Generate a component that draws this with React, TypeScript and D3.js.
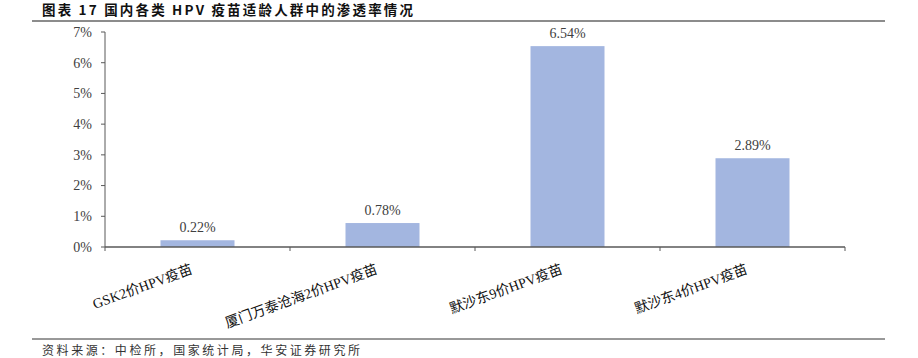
import React from "react";
import * as d3 from "d3";

const categories = ["GSK2价HPV疫苗", "厦门万泰沧海2价HPV疫苗", "默沙东9价HPV疫苗", "默沙东4价HPV疫苗"];
const values = [0.0022, 0.0078, 0.0654, 0.0289];
const yTicks = [0, 0.01, 0.02, 0.03, 0.04, 0.05, 0.06, 0.07];
const title = "图表 17 国内各类 HPV 疫苗适龄人群中的渗透率情况";
const source = "资料来源：中检所，国家统计局，华安证券研究所";

const W = 918;
const H = 358;
const serif = "'Liberation Serif', 'Times New Roman', 'Noto Sans CJK SC', serif";
const cjk = "'Noto Sans CJK SC', sans-serif";

export default function App() {
  const x = d3.scaleBand<string>().domain(categories).range([105, 845]).paddingInner(0.6).paddingOuter(0.3);
  const y = d3.scaleLinear().domain([0, 0.07]).range([247, 32]);
  const step = x.step();
  const x0 = 105;
  const boundaries = d3.range(categories.length + 1).map((i) => x0 + i * step);
  const fmtTick = d3.format(".0%");
  const fmtVal = d3.format(".2%");
  return (
    <svg width={W} height={H} style={{ position: "absolute", left: 0, top: 0, background: "#fff" }}>
      <text x={42} y={15} fontFamily={cjk} fontWeight={700} fontSize={13.5} fill="#111" textLength={371} lengthAdjust="spacing">
        {title}
      </text>
      <line x1={32} x2={885} y1={21} y2={21} stroke="#666" strokeWidth={1.5} />

      {/* bars */}
      {categories.map((c, i) => (
        <rect key={c} x={x(c)} y={y(values[i])} width={x.bandwidth()} height={y(0) - y(values[i])} fill="#A3B6E0" />
      ))}
      {categories.map((c, i) => (
        <text key={c + "v"} x={(x(c) as number) + x.bandwidth() / 2} y={y(values[i]) - 8} textAnchor="middle" fontFamily={serif} fontSize={14} fill="#404040">
          {fmtVal(values[i])}
        </text>
      ))}

      {/* y axis */}
      <line x1={105} x2={105} y1={y(0.07)} y2={y(0)} stroke="#595959" strokeWidth={1} />
      {yTicks.map((t) => (
        <g key={t}>
          <line x1={101} x2={105} y1={y(t)} y2={y(t)} stroke="#595959" />
          <text x={92} y={y(t)} dy="0.35em" textAnchor="end" fontFamily={serif} fontSize={14} fill="#404040">
            {fmtTick(t)}
          </text>
        </g>
      ))}

      {/* x axis */}
      <line x1={105} x2={845} y1={y(0)} y2={y(0)} stroke="#595959" strokeWidth={1.5} />
      {boundaries.map((b) => (
        <line key={b} x1={b} x2={b} y1={y(0)} y2={y(0) + 4} stroke="#595959" />
      ))}
      {categories.map((c) => {
        const cx = (x(c) as number) + x.bandwidth() / 2;
        return (
          <text key={c + "l"} transform={`translate(${cx - 4},${273}) rotate(-20)`} textAnchor="end" fontFamily={serif} fontSize={14} fill="#111">
            {c}
          </text>
        );
      })}

      <line x1={32} x2={885} y1={339} y2={339} stroke="#333" strokeWidth={1} />
      <text x={42} y={355} fontFamily={cjk} fontSize={12} fill="#333" textLength={318} lengthAdjust="spacing">
        {source}
      </text>
    </svg>
  );
}
